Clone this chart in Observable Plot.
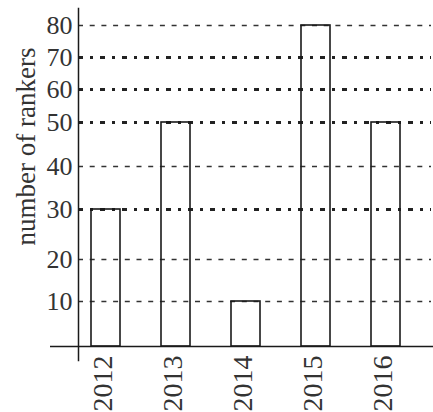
<!DOCTYPE html>
<html>
<head>
<meta charset="utf-8">
<script src="https://cdn.jsdelivr.net/npm/d3@7"></script>
<script src="https://cdn.jsdelivr.net/npm/@observablehq/plot@0.6"></script>
<style>
  html, body { margin: 0; padding: 0; background: #fff; }
</style>
</head>
<body>
<div id="chart"></div>
<script>
// Data
const years = ["2012", "2013", "2014", "2015", "2016"];
const rankers = [30, 50, 10, 80, 50];
const yTicks = [10, 20, 30, 40, 50, 60, 70, 80];
const thinGrid = [10, 20, 40, 80];
const boldGrid = [30, 50, 60, 70];
const yLabel = "number of rankers";

const table = years.map((y, i) => ({year: y, value: rankers[i]}));

const serif = "'Liberation Serif', 'DejaVu Serif', serif";

const chart = Plot.plot({
  width: 433,
  height: 412,
  marginTop: 8,
  marginBottom: 52,
  marginLeft: 78,
  marginRight: 2,
  style: {fontFamily: serif, background: "white", color: "#333"},
  x: {type: "band", domain: years, paddingInner: 0.59, paddingOuter: 0.281, align: 0.29, axis: null},
  y: {
    type: "linear",
    // the scanned original's axis is not evenly spaced; a piecewise scale follows it
    domain: [0, 10, 20, 30, 40, 50, 60, 70, 80],
    range: [346, 301, 259, 209, 166, 122, 89, 57, 25],
    axis: null
  },
  marks: [
    Plot.ruleY(thinGrid, {stroke: "#333", strokeWidth: 1.3, strokeDasharray: "5,6.7"}),
    Plot.ruleY(boldGrid, {stroke: "#222", strokeWidth: 3, strokeDasharray: "5,7,3,7"}),
    Plot.barY(table, {x: "year", y: "value", fill: "none", stroke: "#1a1a1a", strokeWidth: 1.6}),
    Plot.ruleY([0], {stroke: "#1a1a1a", strokeWidth: 1.5, insetLeft: -28, insetRight: -2}),
    Plot.frame({anchor: "left", stroke: "#1a1a1a", strokeWidth: 1.5}),
    Plot.axisY(yTicks, {tickSize: 0, tickPadding: 6, fontSize: 26, label: null, fill: "#333"}),
    Plot.text(years, {x: d => d, y: 0, text: d => d, rotate: -90, textAnchor: "end", lineAnchor: "middle", dy: 9, dx: -3, fontSize: 28, fill: "#333"}),
    Plot.text([yLabel], {frameAnchor: "top-left", text: d => d, rotate: -90, textAnchor: "end", lineAnchor: "middle", dx: -52, dy: 39, fontSize: 27, fill: "#333"})
  ]
});
document.getElementById("chart").appendChild(chart);
</script>
</body>
</html>
